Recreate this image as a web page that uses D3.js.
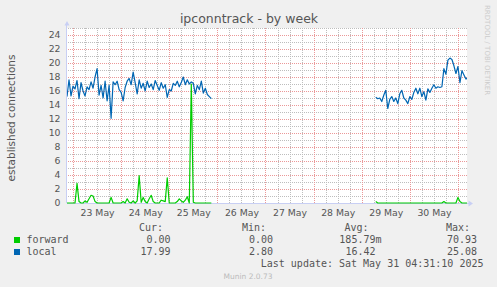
<!DOCTYPE html>
<html>
<head>
<meta charset="utf-8">
<script src="https://cdn.jsdelivr.net/npm/d3@7/dist/d3.min.js"></script>
<style>
body { margin: 0; background: #f0f0f0; }
svg { display: block; }
</style>
</head>
<body>
<div class="chart"></div>
<script>
var svgWidth = 497;
var svgHeight = 287;

// graph window (last update Sat May 31 04:31:10 2025)
var startTime = Date.UTC(2025, 4, 22, 21, 0);
var endTime = Date.UTC(2025, 4, 31, 4, 31);

// hourly samples, first block starts at the left edge
var block1Start = Date.UTC(2025, 4, 22, 21, 0);
var local1 = [15.2, 17.6, 15.3, 16.7, 16.3, 17.5, 14.9, 17.2, 16.0, 15.3,
  16.6, 16.2, 17.3, 16.4, 18.0, 19.2, 15.4, 16.8, 15.0, 17.4,
  14.6, 16.8, 12.1, 17.3, 16.9, 17.4, 16.2, 15.8, 14.6, 16.5,
  17.4, 17.8, 16.9, 18.7, 17.2, 15.6, 17.6, 16.4, 17.1, 16.0,
  17.4, 16.5, 17.0, 16.2, 17.5, 16.8, 16.1, 17.2, 16.4, 16.9,
  15.1, 16.2, 16.0, 17.1, 16.8, 17.4, 16.6, 17.2, 18.0, 16.9,
  17.6, 17.0, 17.3, 17.1, 15.6, 16.8, 16.2, 17.4, 15.7, 16.4,
  15.5, 15.2, 14.9];
var forward1 = [0, 0, 0, 0, 0, 2.8, 0.2, 0, 0, 0.3,
  0.1, 0.6, 1.1, 1.0, 0.2, 0, 0, 0, 0, 0,
  0, 0, 0.8, 0, 0, 0, 0, 0, 0.2, 0,
  0.6, 0.1, 0, 0.3, 0, 0.3, 3.9, 0.1, 0.8, 0.2,
  0, 0.6, 1.1, 0.2, 0, 0, 0, 0.4, 0.3, 0.2,
  3.6, 0, 0, 0, 0, 0.2, 0.6, 0.3, 0.1, 0.4,
  0.9, 0, 17.0, 0.1, 0, 0, 0, 0, 0, 0,
  0, 0, 0];

// second block after the gap
var block2Start = Date.UTC(2025, 4, 29, 7, 0);
var local2 = [15.1, 14.9, 15.0, 14.5, 15.4, 16.1, 13.5, 14.8, 15.2, 14.5,
  15.0, 14.2, 15.6, 16.1, 15.0, 14.7, 14.2, 15.2, 14.8, 15.8,
  16.4, 15.6, 16.4, 15.2, 15.9, 14.7, 16.3, 15.8, 16.4, 16.9,
  16.4, 16.6, 16.5, 16.6, 19.2, 18.4, 20.4, 20.7, 20.5, 19.6,
  18.5, 19.5, 17.2, 18.9, 18.3, 17.7, 17.99];
var forward2 = [0.2, 0, 0, 0, 0, 0, 0, 0, 0, 0,
  0, 0, 0, 0, 0, 0, 0, 0, 0, 0,
  0, 0, 0, 0, 0, 0, 0, 0, 0, 0,
  0, 0, 0, 0, 0.2, 0, 0, 0, 0, 0,
  0, 0.8, 0.2, 0, 0, 0, 0];

var yTicks = [0, 2, 4, 6, 8, 10, 12, 14, 16, 18, 20, 22, 24];

var legendNames = ["forward", "local"];
var legendColors = ["#00cc00", "#0066b3"];
var curValues = ["0.00", "17.99"];
var minValues = ["0.00", "2.80"];
var avgValues = ["185.79m", "16.42"];
var maxValues = ["70.93", "25.08"];

var plot = { left: 67, right: 467, top: 28, bottom: 203 };

var svg = d3.select(".chart")
  .append("svg")
  .attr("width", svgWidth)
  .attr("height", svgHeight);

svg.append("rect")
  .attr("width", svgWidth)
  .attr("height", svgHeight)
  .attr("fill", "#f0f0f0");

svg.append("rect")
  .attr("x", plot.left)
  .attr("y", plot.top)
  .attr("width", plot.right - plot.left)
  .attr("height", plot.bottom - plot.top)
  .attr("fill", "#ffffff");

var x = d3.scaleTime()
  .domain([startTime, endTime])
  .range([plot.left, plot.right]);

var y = d3.scaleLinear()
  .domain([0, 25])
  .range([plot.bottom, plot.top]);

// dotted grid via 2px patterns (one pixel on, one off)
var minorColor = "#bdbdbd";
var majorColor = "#eb9898";
var defs = svg.append("defs");
function dotPattern(id, color, horizontal) {
  defs.append("pattern")
    .attr("id", id)
    .attr("patternUnits", "userSpaceOnUse")
    .attr("width", 2)
    .attr("height", 2)
    .append("rect")
    .attr("width", horizontal ? 1 : 2)
    .attr("height", horizontal ? 2 : 1)
    .attr("fill", color);
}
dotPattern("minorH", minorColor, true);
dotPattern("majorH", majorColor, true);
dotPattern("minorV", minorColor, false);
dotPattern("majorV", majorColor, false);

var grid = svg.append("g").attr("shape-rendering", "crispEdges");

function hLines(values, fill) {
  grid.selectAll(null)
    .data(values)
    .enter()
    .append("rect")
    .attr("x", plot.left)
    .attr("y", d => Math.round(y(d)))
    .attr("width", plot.right - plot.left)
    .attr("height", 1)
    .attr("fill", fill);
}

function vLines(values, fill) {
  grid.selectAll(null)
    .data(values)
    .enter()
    .append("rect")
    .attr("x", d => Math.round(x(d)))
    .attr("y", plot.top)
    .attr("width", 1)
    .attr("height", plot.bottom - plot.top)
    .attr("fill", fill);
}

var minorY = d3.range(1, 26).filter(d => d % 2 == 1);
var minorX = d3.utcHour.every(6).range(new Date(startTime), new Date(endTime))
  .filter(d => d.getUTCHours() != 0);
var days = d3.utcDay.range(new Date(startTime), new Date(endTime));

hLines(minorY, "url(#minorH)");
vLines(minorX, "url(#minorV)");
hLines(yTicks.filter(d => d > 0), "url(#majorH)");
vLines(days, "url(#majorV)");

// axes lines + arrows
var axisColor = "#c8cff4";
svg.append("line")
  .attr("x1", plot.left - 0.5).attr("x2", plot.left - 0.5)
  .attr("y1", plot.bottom).attr("y2", 24)
  .attr("stroke", axisColor);
svg.append("path")
  .attr("d", "M64.5,25.5L67,21L69.5,25.5Z")
  .attr("fill", axisColor);
svg.append("line")
  .attr("x1", plot.left).attr("x2", 470)
  .attr("y1", plot.bottom + 0.5).attr("y2", plot.bottom + 0.5)
  .attr("stroke", axisColor);
svg.append("path")
  .attr("d", "M468.5,200.5L473,203.5L468.5,206.5Z")
  .attr("fill", axisColor);

// tick labels
var leftAxis = d3.axisLeft(y).tickValues(yTicks).tickSize(0).tickPadding(6.5);
var yAxisG = svg.append("g")
  .attr("transform", `translate(${plot.left}, 0)`)
  .call(leftAxis);

var noons = days.map(d => d3.utcHour.offset(d, 12)).filter(d => d < endTime);
var bottomAxis = d3.axisBottom(x).tickValues(noons).tickSize(0).tickPadding(6.4)
  .tickFormat(d3.utcFormat("%d %b"));
var xAxisG = svg.append("g")
  .attr("transform", `translate(0, ${plot.bottom})`)
  .call(bottomAxis);

[yAxisG, xAxisG].forEach(function(g) {
  g.select(".domain").remove();
  g.attr("font-family", "DejaVu Sans")
    .attr("font-size", "9.3px");
  g.selectAll("text").attr("fill", "#555");
});

// data
defs.append("clipPath").attr("id", "canvas")
  .append("rect")
  .attr("x", plot.left)
  .attr("y", plot.top)
  .attr("width", plot.right - plot.left)
  .attr("height", plot.bottom - plot.top + 1);

function toPoints(start, values) {
  return values.map((v, i) => ({ t: start + i * 3600000, v: v }));
}

var line = d3.line()
  .x(d => x(d.t))
  .y(d => y(d.v));

var series = [
  { color: legendColors[0], blocks: [toPoints(block1Start, forward1), toPoints(block2Start, forward2)] },
  { color: legendColors[1], blocks: [toPoints(block1Start, local1), toPoints(block2Start, local2)] }
];

var dataG = svg.append("g").attr("clip-path", "url(#canvas)");
series.forEach(function(s) {
  s.blocks.forEach(function(b) {
    dataG.append("path")
      .datum(b)
      .attr("d", line)
      .attr("fill", "none")
      .attr("stroke", s.color)
      .attr("stroke-width", 1.2)
      .attr("stroke-linejoin", "round");
  });
});

// title and side texts
svg.append("text")
  .attr("x", 249)
  .attr("y", 23)
  .attr("text-anchor", "middle")
  .attr("font-family", "DejaVu Sans")
  .attr("font-size", "12.5px")
  .attr("fill", "#555")
  .text("ipconntrack - by week");

svg.append("text")
  .attr("transform", "translate(15, 118) rotate(-90)")
  .attr("text-anchor", "middle")
  .attr("font-family", "DejaVu Sans")
  .attr("font-size", "10.5px")
  .attr("fill", "#555")
  .text("established connections");

svg.append("text")
  .attr("transform", "translate(485, 5) rotate(90)")
  .attr("font-family", "DejaVu Sans")
  .attr("font-size", "7px")
  .attr("fill", "#cccccc")
  .text("RRDTOOL / TOBI OETIKER");

// legend
var legend = svg.append("g")
  .attr("font-family", "DejaVu Sans Mono")
  .attr("font-size", "10px")
  .attr("fill", "#555");

var headers = [["Cur:", 163], ["Min:", 266], ["Avg:", 368.5], ["Max:", 470]];
headers.forEach(function(h) {
  legend.append("text")
    .attr("x", h[1])
    .attr("y", 230.5)
    .attr("text-anchor", "end")
    .text(h[0]);
});

legendNames.forEach(function(name, i) {
  var by = 243 + i * 12;
  legend.append("rect")
    .attr("x", 14)
    .attr("y", by - 6)
    .attr("width", 6)
    .attr("height", 6)
    .attr("fill", legendColors[i]);
  legend.append("text").attr("x", 26.5).attr("y", by).text(name);
  legend.append("text").attr("x", 170.5).attr("y", by).attr("text-anchor", "end").text(curValues[i]);
  legend.append("text").attr("x", 273).attr("y", by).attr("text-anchor", "end").text(minValues[i]);
  legend.append("text").attr("x", avgValues[i].endsWith("m") ? 381.5 : 375.5).attr("y", by)
    .attr("text-anchor", "end").text(avgValues[i]);
  legend.append("text").attr("x", 477).attr("y", by).attr("text-anchor", "end").text(maxValues[i]);
});

legend.append("text")
  .attr("x", 483.5)
  .attr("y", 266.5)
  .attr("text-anchor", "end")
  .text("Last update: Sat May 31 04:31:10 2025");

svg.append("text")
  .attr("x", 248)
  .attr("y", 279)
  .attr("text-anchor", "middle")
  .attr("font-family", "DejaVu Sans")
  .attr("font-size", "7.5px")
  .attr("fill", "#bbbbbb")
  .text("Munin 2.0.73");
</script>
</body>
</html>
